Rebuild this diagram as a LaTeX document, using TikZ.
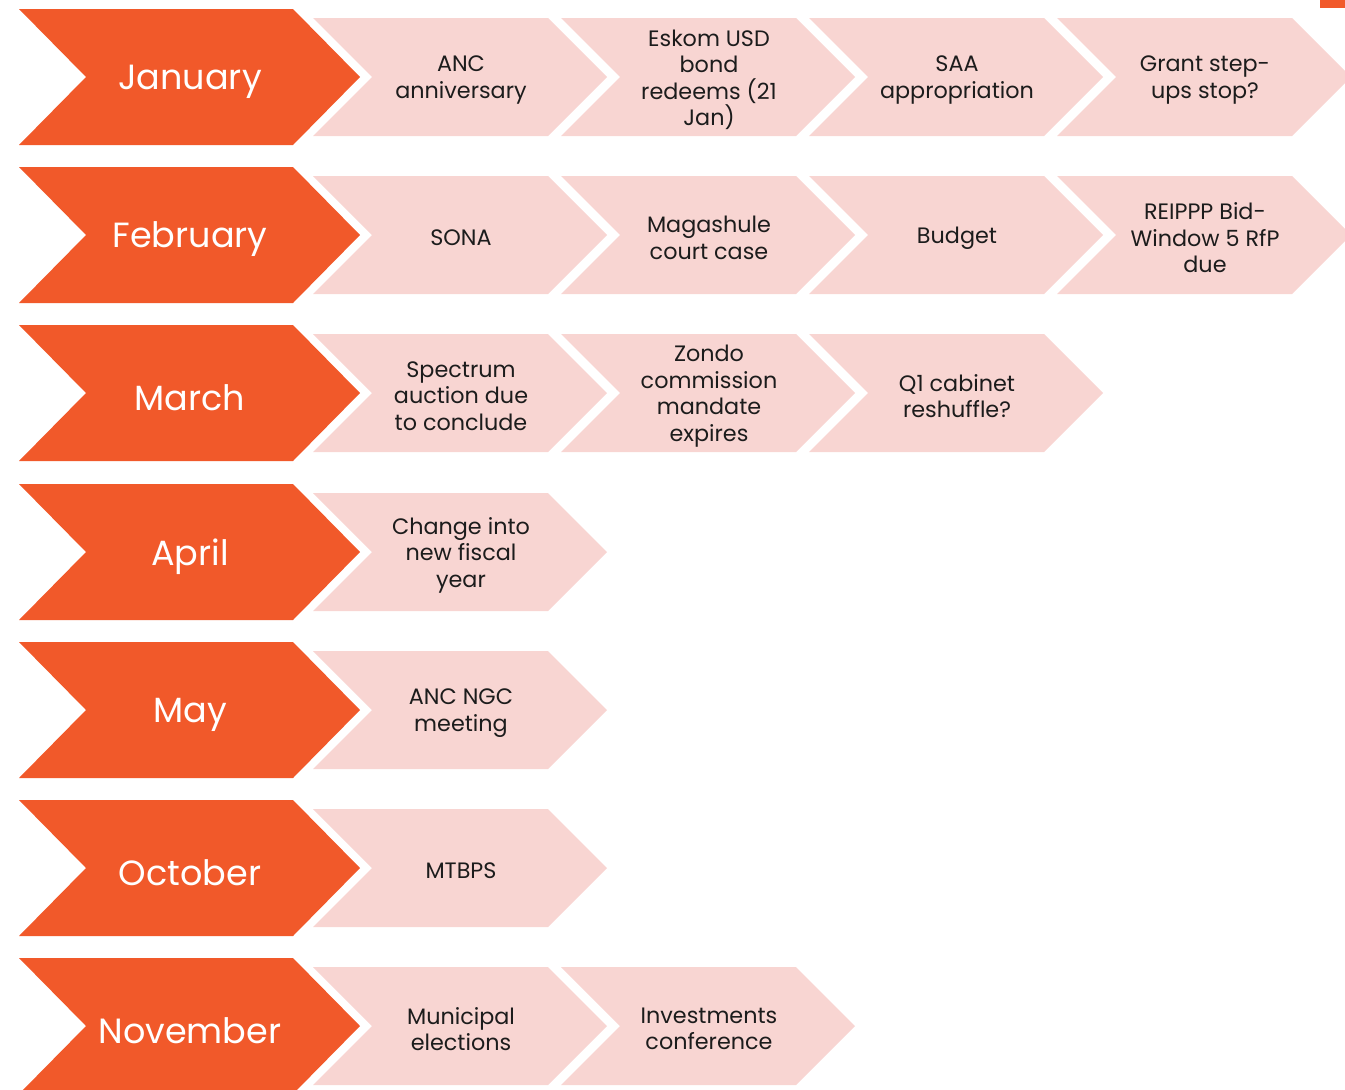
\documentclass[tikz,border=0pt]{standalone}
\usepackage{fontspec}
\setmainfont{Poppins}
\definecolor{orng}{RGB}{241,89,42}
\definecolor{pnk}{RGB}{248,213,210}
\definecolor{txt}{RGB}{28,28,28}
\newcommand\pinkchev[2]{%
  \fill[pnk] (#1,#2-59) -- ++(235,0) -- ++(59,59) -- ++(-59,59) -- ++(-235,0) -- ++(59,-59) -- cycle;}
\newcommand\orngchev[1]{%
  \fill[orng] (19,#1-68) -- (293,#1-68) -- (360,#1) -- (293,#1+68) -- (19,#1+68) -- (86,#1) -- cycle;}
\tikzset{
  ptxt/.style={text=txt, align=center, inner sep=0pt, yshift=-3pt, font=\fontsize{22.3}{26.5}\selectfont},
  mtxt/.style={text=white, align=center, inner sep=0pt, yshift=-4.5pt, font=\fontsize{35}{40}\selectfont},
}
\begin{document}
\begin{tikzpicture}[x=1pt,y=-1pt]
\useasboundingbox (0,0) rectangle (1345,1090);
\clip (0,0) rectangle (1345,1090);
\fill[orng] (1320,0) rectangle (1345,8);
% row centers
\def\ra{77}\def\rb{235}\def\rc{393}\def\rd{552}\def\re{710}\def\rf{868}\def\rg{1026}
% pink chevrons
\pinkchev{313}{\ra}\pinkchev{561}{\ra}\pinkchev{809}{\ra}\pinkchev{1057}{\ra}
\pinkchev{313}{\rb}\pinkchev{561}{\rb}\pinkchev{809}{\rb}\pinkchev{1057}{\rb}
\pinkchev{313}{\rc}\pinkchev{561}{\rc}\pinkchev{809}{\rc}
\pinkchev{313}{\rd}
\pinkchev{313}{\re}
\pinkchev{313}{\rf}
\pinkchev{313}{\rg}\pinkchev{561}{\rg}
% orange chevrons
\orngchev{\ra}\orngchev{\rb}\orngchev{\rc}\orngchev{\rd}\orngchev{\re}\orngchev{\rf}\orngchev{\rg}
% month labels
\node[mtxt] (jan) at (190,\ra) {January};
\node[mtxt] (feb) at (190,\rb) {February};
\node[mtxt] (mar) at (190,\rc) {March};
\node[mtxt] (apr) at (190,\rd) {April};
\node[mtxt] (may) at (190,\re) {May};
\node[mtxt] (oct) at (190,\rf) {October};
\node[mtxt] (nov) at (190,\rg) {November};
% events
\node[ptxt] (jan1) at (461,\ra) {ANC\\anniversary};
\node[ptxt] (jan2) at (709,\ra) {Eskom USD\\bond\\redeems (21\\Jan)};
\node[ptxt] (jan3) at (957,\ra) {SAA\\appropriation};
\node[ptxt] (jan4) at (1205,\ra) {Grant step-\\ups stop?};
\node[ptxt] (feb1) at (461,\rb) {SONA};
\node[ptxt] (feb2) at (709,\rb) {Magashule\\court case};
\node[ptxt] (feb3) at (957,\rb) {Budget};
\node[ptxt] (feb4) at (1205,\rb) {REIPPP Bid-\\Window 5 RfP\\due};
\node[ptxt] (mar1) at (461,\rc) {Spectrum\\auction due\\to conclude};
\node[ptxt] (mar2) at (709,\rc) {Zondo\\commission\\mandate\\expires};
\node[ptxt] (mar3) at (957,\rc) {Q1 cabinet\\reshuffle?};
\node[ptxt] (apr1) at (461,\rd) {Change into\\new fiscal\\year};
\node[ptxt] (may1) at (461,\re) {ANC NGC\\meeting};
\node[ptxt] (oct1) at (461,\rf) {MTBPS};
\node[ptxt] (nov1) at (461,\rg) {Municipal\\elections};
\node[ptxt] (nov2) at (709,\rg) {Investments\\conference};
\end{tikzpicture}
\end{document}
